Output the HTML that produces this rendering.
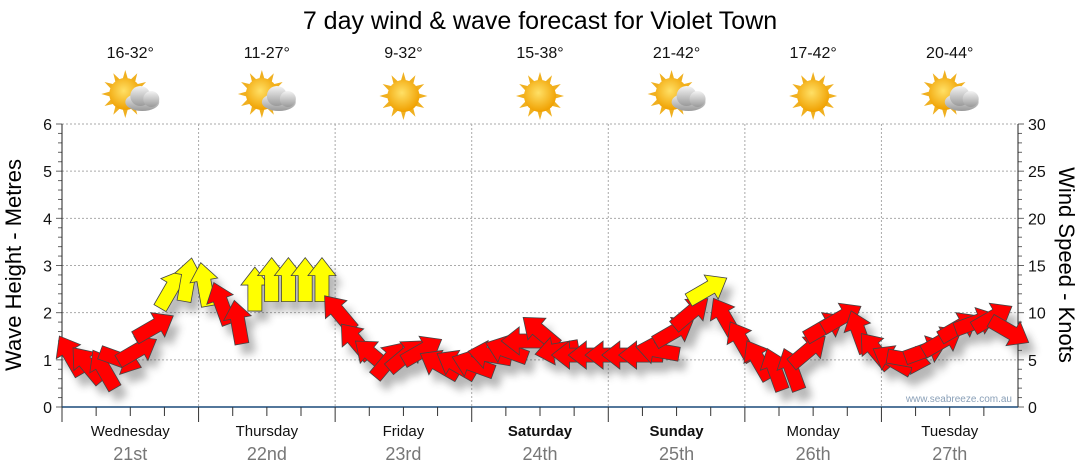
<!DOCTYPE html>
<html><head><meta charset="utf-8"><style>
body{margin:0;background:#fff;font-family:"Liberation Sans",sans-serif}
svg{display:block}
</style></head><body>
<svg id="c" width="1080" height="475" xmlns="http://www.w3.org/2000/svg">
<defs>
<filter id="sh" x="-50%" y="-50%" width="200%" height="200%"><feGaussianBlur stdDeviation="4"/></filter>
<radialGradient id="sun" cx="45%" cy="40%" r="60%"><stop offset="0" stop-color="#ffe066"/><stop offset="1" stop-color="#f0a000"/></radialGradient>
<linearGradient id="cloud" x1="0" y1="0" x2="0" y2="1"><stop offset="0" stop-color="#f4f4f4"/><stop offset="1" stop-color="#9a9a9a"/></linearGradient>
</defs>
<text x="540" y="29" text-anchor="middle" font-size="25" fill="#000">7 day wind &amp; wave forecast for Violet Town</text>
<g id="grid"></g><g id="axes"></g><g id="shadows" filter="url(#sh)" opacity="0.35"></g><g id="arrows"></g><g id="icons"></g>
<text x="1012" y="402" text-anchor="end" font-size="10" fill="#8aa0b8">www.seabreeze.com.au</text>
<text transform="translate(21,265) rotate(-90)" text-anchor="middle" font-size="22" fill="#000">Wave Height - Metres</text>
<text transform="translate(1059,265) rotate(90)" text-anchor="middle" font-size="22" fill="#000">Wind Speed - Knots</text>
</svg>
<script>
const days=["Wednesday","Thursday","Friday","Saturday","Sunday","Monday","Tuesday"];
const dates=["21st","22nd","23rd","24th","25th","26th","27th"];
const boldDays=[false,false,false,true,true,false,false];
const temps=["16-32°","11-27°","9-32°","15-38°","21-42°","17-42°","20-44°"];
const cloudy=[true,true,false,false,true,false,true];
const leftTicks=[0,1,2,3,4,5,6];
const rightTicks=[0,5,10,15,20,25,30];
const windKnots=[5.5,4.5,4,5,6,8.5,12.5,13.5,13,11,9,12.5,13.5,13.5,13.5,13.5,10,7,5.5,5,5.5,6,4.5,4.5,4.5,5.5,6,7,8,6,5.5,5.5,5.5,5.5,5.5,6,8,10,12.5,9.5,7,5,4,4,6,8.5,9.5,8,6,5,5,6,7,8.5,9,9.5,8];
const windDir=[-30,-40,-30,110,60,60,30,10,-10,-20,-10,0,0,0,0,0,-40,-40,-50,40,50,60,-60,-60,-70,-80,-70,-90,-50,-100,-90,-90,-90,-90,-90,-80,60,50,60,-30,-30,-30,-20,-20,50,60,60,-20,-40,-60,100,70,60,60,70,60,120];
const X0=62,X1=1018,Y0=407,Y1=124,NS="http://www.w3.org/2000/svg";
const dayW=(X1-X0)/7;
const yM=v=>Y0-(v/6)*(Y0-Y1);
const yK=v=>Y0-(v/30)*(Y0-Y1);
const xI=i=>X0+(i+0.5)*(X1-X0)/windKnots.length;
function mk(tag,attrs,parent,txt){const e=document.createElementNS(NS,tag);for(const k in attrs)e.setAttribute(k,attrs[k]);if(txt!==undefined)e.textContent=txt;parent.appendChild(e);return e;}
const grid=document.getElementById('grid'),axes=document.getElementById('axes');
leftTicks.forEach(t=>{if(t>0){const l=mk('line',{x1:X0,x2:X1,y1:yM(t),y2:yM(t),stroke:'#aaa','stroke-dasharray':'2,2'},grid);

}
const tx=mk('text',{x:X0-10,y:yM(t)+6,'text-anchor':'end','font-size':16,fill:'#111'},axes,t);

});
for(let v=0;v<=6.001;v+=0.2){mk('line',{x1:X0-(Math.abs(v-Math.round(v))<0.01?6:4),x2:X0,y1:yM(v),y2:yM(v),stroke:'#666'},axes);}
rightTicks.forEach(t=>{const tx=mk('text',{x:X1+10,y:yK(t)+6,'font-size':16,fill:'#111'},axes,t);

});
for(let v=0;v<=30.01;v+=1){mk('line',{x1:X1,x2:X1+(v%5==0?6:4),y1:yK(v),y2:yK(v),stroke:'#666'},axes);}
mk('line',{x1:X0,x2:X0,y1:Y1,y2:Y0,stroke:'#222'},axes);
mk('line',{x1:X1,x2:X1,y1:Y1,y2:Y0,stroke:'#222'},axes);
mk('line',{x1:X0,x2:X1,y1:Y0,y2:Y0,stroke:'#1a4a7a','stroke-width':1.5},axes);
for(let d=0;d<7;d++){
 if(d>0){const l=mk('line',{x1:X0+d*dayW,x2:X0+d*dayW,y1:Y1,y2:Y0,stroke:'#aaa','stroke-dasharray':'2,2'},grid);
 
 }
 for(let q=0;q<4;q++){const x=X0+d*dayW+q*dayW/4;mk('line',{x1:x,x2:x,y1:Y0,y2:Y0+(q==0?15:9),stroke:'#333'},axes);}
 const cx=X0+(d+0.5)*dayW;
 const dn=mk('text',{x:cx,y:436,'text-anchor':'middle','font-size':15,fill:'#111','font-weight':boldDays[d]?'bold':'normal'},axes,days[d]);
 
 
 const dt=mk('text',{x:cx,y:460,'text-anchor':'middle','font-size':18,fill:'#777'},axes,dates[d]);
 
 
 const tp=mk('text',{x:cx,y:58,'text-anchor':'middle','font-size':16,fill:'#111'},axes,temps[d]);
 
 
 const g=mk('g',{transform:`translate(${cx},96)`},document.getElementById('icons'));
 
 
 const sx=cloudy[d]?-5:0,sy=cloudy[d]?-2:0;
 for(let r=0;r<12;r++){const a=r*30*Math.PI/180;mk('polygon',{points:`${sx+Math.cos(a-0.18)*15},${sy+Math.sin(a-0.18)*15} ${sx+Math.cos(a)*24},${sy+Math.sin(a)*24} ${sx+Math.cos(a+0.18)*15},${sy+Math.sin(a+0.18)*15}`,fill:'#f0b020'},g);}
 mk('circle',{cx:sx,cy:sy,r:16,fill:'url(#sun)'},g);
 if(cloudy[d]){mk('ellipse',{cx:12,cy:6,rx:17,ry:9,fill:'url(#cloud)'},g);mk('circle',{cx:10,cy:0,r:10,fill:'url(#cloud)'},g);mk('circle',{cx:21,cy:3,r:8,fill:'url(#cloud)'},g);}
}
const arrowPts="0,-22 14,-4 7,-4 7,22 -7,22 -7,-4 -14,-4";
const sh=document.getElementById('shadows'),ar=document.getElementById('arrows');
windKnots.forEach((k,i)=>{
 const x=xI(i),y=yK(k),a=windDir[i];
 mk('polygon',{points:arrowPts,transform:`translate(${x+7},${y+10}) rotate(${a})`,fill:'#333'},sh);
 const p=mk('polygon',{points:arrowPts,transform:`translate(${x},${y}) rotate(${a})`,fill:k>=11.5?'#ffff00':'#ff0000',stroke:'#444','stroke-width':0.8},ar);
 
 
});
</script>
</body></html>
